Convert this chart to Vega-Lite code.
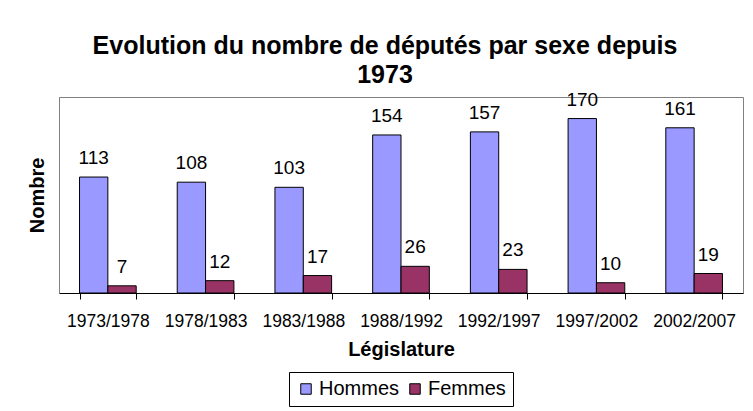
{
  "$schema": "https://vega.github.io/schema/vega-lite/v6.json",
  "width": 684,
  "height": 196,
  "autosize": {"type": "none"},
  "padding": {"left": 59, "top": 97, "right": 10, "bottom": 118},
  "background": "white",
  "title": {
    "text": ["Evolution du nombre de députés par sexe depuis", "1973"],
    "font": "Liberation Sans",
    "fontSize": 25,
    "fontWeight": "bold",
    "color": "black",
    "lineHeight": 29,
    "anchor": "middle",
    "frame": "group",
    "dx": -16,
    "offset": 3
  },
  "data": {
    "values": [
      {"legislature": "1973/1978", "sexe": "Hommes", "nombre": 113},
      {"legislature": "1973/1978", "sexe": "Femmes", "nombre": 7},
      {"legislature": "1978/1983", "sexe": "Hommes", "nombre": 108},
      {"legislature": "1978/1983", "sexe": "Femmes", "nombre": 12},
      {"legislature": "1983/1988", "sexe": "Hommes", "nombre": 103},
      {"legislature": "1983/1988", "sexe": "Femmes", "nombre": 17},
      {"legislature": "1988/1992", "sexe": "Hommes", "nombre": 154},
      {"legislature": "1988/1992", "sexe": "Femmes", "nombre": 26},
      {"legislature": "1992/1997", "sexe": "Hommes", "nombre": 157},
      {"legislature": "1992/1997", "sexe": "Femmes", "nombre": 23},
      {"legislature": "1997/2002", "sexe": "Hommes", "nombre": 170},
      {"legislature": "1997/2002", "sexe": "Femmes", "nombre": 10},
      {"legislature": "2002/2007", "sexe": "Hommes", "nombre": 161},
      {"legislature": "2002/2007", "sexe": "Femmes", "nombre": 19}
    ]
  },
  "encoding": {
    "x": {
      "field": "legislature",
      "type": "nominal",
      "sort": null,
      "scale": {"paddingInner": 0.42, "paddingOuter": 0.21},
      "axis": {
        "title": "Législature",
        "titleFont": "Liberation Sans",
        "titleFontSize": 20,
        "titleFontWeight": "bold",
        "titleColor": "black",
        "titlePadding": 10,
        "labelFont": "Liberation Sans",
        "labelFontSize": 17.5,
        "labelColor": "black",
        "labelAngle": 0,
        "labelPadding": 13,
        "tickBand": "extent",
        "tickSize": 6,
        "tickColor": "black",
        "domainColor": "black",
        "grid": false
      }
    },
    "xOffset": {"field": "sexe", "type": "nominal", "sort": ["Hommes", "Femmes"]},
    "y": {
      "field": "nombre",
      "type": "quantitative",
      "scale": {"domain": [0, 191], "nice": false},
      "axis": {
        "title": "Nombre",
        "titleFont": "Liberation Sans",
        "titleFontSize": 20,
        "titleFontWeight": "bold",
        "titleColor": "black",
        "titlePadding": 12,
        "labels": false,
        "ticks": false,
        "grid": false,
        "domainColor": "#808080"
      }
    }
  },
  "layer": [
    {
      "mark": {"type": "bar", "stroke": "black", "strokeWidth": 1},
      "encoding": {
        "color": {
          "field": "sexe",
          "type": "nominal",
          "sort": ["Hommes", "Femmes"],
          "scale": {"domain": ["Hommes", "Femmes"], "range": ["#9999FF", "#993366"]},
          "legend": {
            "title": null,
            "orient": "none",
            "legendX": 230,
            "legendY": 275,
            "direction": "horizontal",
            "labelFont": "Liberation Sans",
            "labelFontSize": 20,
            "labelColor": "black",
            "labelOffset": 3,
            "symbolType": "square",
            "symbolSize": 110,
            "symbolStrokeColor": "black",
            "symbolStrokeWidth": 1,
            "strokeColor": "black",
            "padding": 7,
            "columnPadding": 5
          }
        }
      }
    },
    {
      "mark": {"type": "text", "font": "Liberation Sans", "fontSize": 19, "color": "black", "baseline": "alphabetic", "dy": -13},
      "encoding": {
        "text": {"field": "nombre", "type": "quantitative"}
      }
    }
  ],
  "config": {
    "view": {"stroke": "#808080", "strokeWidth": 1}
  }
}
